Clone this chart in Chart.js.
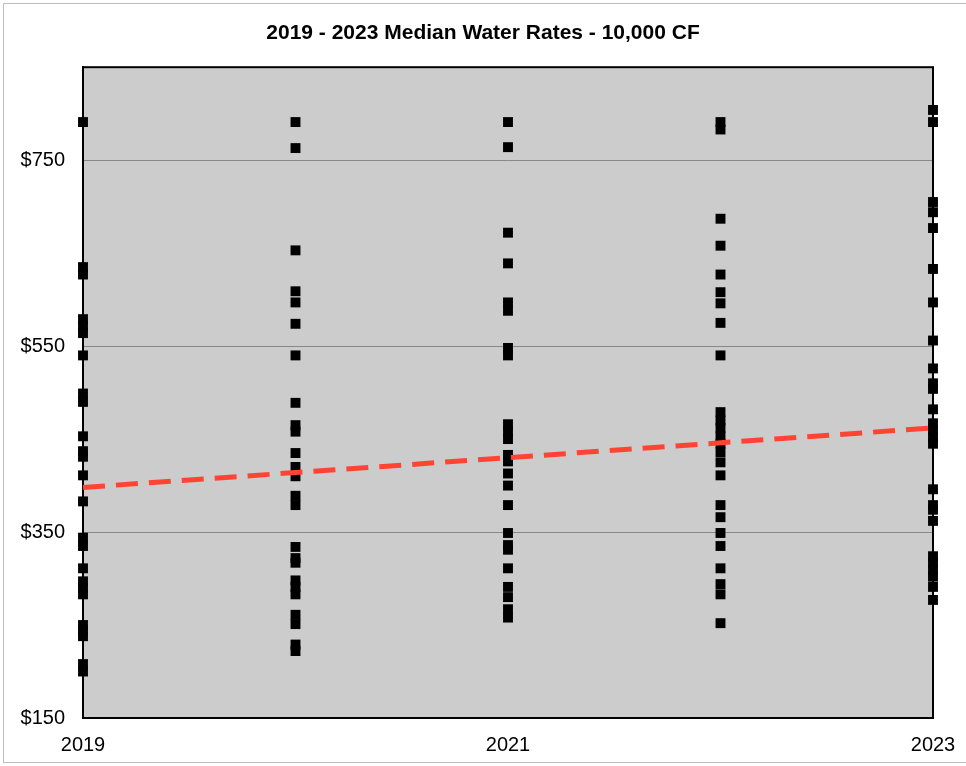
<!DOCTYPE html>
<html>
<head>
<meta charset="utf-8">
<script src="https://cdn.jsdelivr.net/npm/chart.js@4.4.1/dist/chart.umd.min.js"></script>
<style>
html,body{margin:0;padding:0;background:#fff;}
#wrap{position:relative;width:966px;height:766px;}
</style>
</head>
<body>
<div id="wrap"><canvas id="c" width="966" height="766"></canvas></div>
<script>
const years = [2019, 2020, 2021, 2022, 2023];
const xTickLabels = [2019, 2021, 2023];
const yTickValues = [150, 350, 550, 750];

const rates2019 = [791, 635, 627, 579, 571, 564, 540, 499, 490, 453, 437, 431, 411, 383, 344, 335, 311, 297, 290, 283, 250, 244, 238, 208, 200];
const rates2020 = [791, 763, 653, 609, 597, 574, 540, 489, 465, 458, 435, 420, 410, 389, 379, 334, 322, 317, 298, 291, 283, 261, 251, 229, 222];
const rates2021 = [791, 764, 672, 639, 597, 588, 548, 540, 466, 458, 450, 433, 426, 413, 400, 379, 349, 336, 331, 311, 291, 280, 267, 258];
const rates2022 = [791, 783, 687, 658, 627, 608, 596, 575, 540, 479, 470, 462, 453, 445, 436, 425, 411, 379, 366, 349, 335, 311, 294, 283, 252];
const rates2023 = [804, 791, 705, 694, 677, 633, 597, 556, 526, 510, 504, 482, 467, 460, 452, 445, 396, 379, 374, 362, 324, 317, 309, 302, 291, 277];

const trendYears = [2019, 2023];
const trendValues = [398, 462];

const allRates = [rates2019, rates2020, rates2021, rates2022, rates2023];
const scatterData = [];
years.forEach((yr, i) => allRates[i].forEach(v => scatterData.push({x: yr, y: v})));
const trendData = trendYears.map((yr, i) => ({x: yr, y: trendValues[i]}));

const FONT = "'Liberation Sans', Arial, sans-serif";

const framePlugin = {
  id: 'frame',
  beforeDraw(chart) {
    const ctx = chart.ctx;
    const a = chart.chartArea;
    ctx.save();
    ctx.fillStyle = '#ffffff';
    ctx.fillRect(0, 0, chart.width, chart.height);
    ctx.strokeStyle = '#bdbdbd';
    ctx.lineWidth = 1;
    ctx.strokeRect(3.5, 3.5, chart.width + 10, chart.height - 7);
    ctx.fillStyle = '#cccccc';
    ctx.fillRect(a.left, a.top, a.right - a.left, a.bottom - a.top);
    ctx.restore();
  },
  beforeDatasetsDraw(chart) {
    const ctx = chart.ctx;
    const a = chart.chartArea;
    ctx.save();
    ctx.strokeStyle = '#000000';
    ctx.lineWidth = 2;
    ctx.strokeRect(a.left, a.top, a.right - a.left, a.bottom - a.top);
    ctx.restore();
  }
};

new Chart(document.getElementById('c'), {
  type: 'scatter',
  data: {
    datasets: [
      {
        label: 'Rates',
        data: scatterData,
        pointStyle: 'rect',
        pointRadius: 7,
        pointHoverRadius: 7,
        backgroundColor: '#000000',
        borderColor: '#000000',
        borderWidth: 0,
        clip: false,
        order: 2
      },
      {
        label: 'Trend',
        type: 'line',
        data: trendData,
        borderColor: '#ff4433',
        borderWidth: 5,
        borderDash: [22, 11],
        pointRadius: 0,
        fill: false,
        clip: false,
        order: 1
      }
    ]
  },
  options: {
    responsive: false,
    animation: false,
    events: [],
    layout: { padding: { left: 0, right: 0, top: 0, bottom: 0 } },
    plugins: {
      legend: { display: false },
      tooltip: { enabled: false },
      title: {
        display: true,
        text: '2019 - 2023 Median Water Rates - 10,000 CF',
        color: '#000000',
        font: { family: FONT, size: 21, weight: 'bold', lineHeight: 1.2 },
        padding: { top: 21, bottom: 21 }
      }
    },
    scales: {
      x: {
        type: 'linear',
        min: 2019,
        max: 2023,
        afterBuildTicks(scale) { scale.ticks = xTickLabels.map(v => ({value: v})); },
        afterFit(scale) { scale.height = 48; scale.paddingLeft = 0; scale.paddingRight = 0; },
        grid: { display: false, drawTicks: false },
        border: { display: true, color: '#000000', width: 2 },
        ticks: {
          color: '#000000',
          padding: 15,
          maxRotation: 0,
          autoSkip: false,
          font: { family: FONT, size: 20 },
          callback: v => String(v)
        }
      },
      y: {
        type: 'linear',
        min: 150,
        max: 850,
        afterBuildTicks(scale) { scale.ticks = yTickValues.map(v => ({value: v})); },
        afterFit(scale) { scale.width = 83; scale.paddingTop = 0; scale.paddingBottom = 0; },
        grid: { color: '#888888', lineWidth: 1, drawTicks: false },
        border: { display: true, color: '#000000', width: 2 },
        ticks: {
          color: '#000000',
          padding: 18,
          font: { family: FONT, size: 20 },
          callback: v => '$' + v
        }
      },
      yRight: {
        type: 'linear',
        position: 'right',
        min: 150,
        max: 850,
        display: true,
        afterFit(scale) { scale.width = 33; scale.paddingTop = 0; scale.paddingBottom = 0; },
        grid: { display: false, drawTicks: false },
        border: { display: false },
        ticks: { display: false }
      }
    }
  },
  plugins: [framePlugin]
});
</script>
</body>
</html>
